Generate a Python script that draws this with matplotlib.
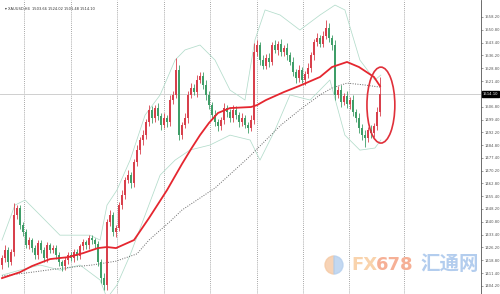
import numpy as np
import matplotlib.pyplot as plt
from matplotlib.patches import Ellipse, Wedge
from matplotlib.transforms import blended_transform_factory

# data (XAUUSD H4)
title_text = 'XAUUSD,H4  1503.66 1524.02 1501.48 1514.10'
first_open = 1416.0
closes = [1420.1, 1424.7, 1417.8, 1423.5, 1444.7, 1448.7,
          1439.0, 1435.0, 1427.5, 1430.4, 1425.8, 1421.8,
          1428.7, 1424.7, 1420.1, 1427.5, 1424.7, 1425.8,
          1421.8, 1417.8, 1415.5, 1418.9, 1421.8, 1420.1,
          1423.5, 1421.2, 1426.9, 1429.2, 1427.5, 1431.5,
          1430.4, 1428.1, 1417.8, 1408.6, 1404.6, 1440.7,
          1444.7, 1435.0, 1437.3, 1450.4, 1456.2, 1464.8,
          1467.6, 1463.0, 1475.1, 1481.9, 1487.7, 1490.5,
          1498.0, 1504.9, 1500.3, 1506.0, 1501.4, 1496.3,
          1500.3, 1498.0, 1510.6, 1513.5, 1527.8, 1490.5,
          1496.3, 1500.3, 1513.5, 1517.5, 1515.2, 1522.1,
          1524.4, 1519.2, 1513.5, 1507.7, 1502.0, 1498.0,
          1495.7, 1499.1, 1506.0, 1503.7, 1500.3, 1504.9,
          1502.0, 1498.0, 1500.3, 1496.3, 1494.6, 1499.1,
          1538.1, 1542.1, 1533.5, 1530.1, 1534.7, 1532.4,
          1542.1, 1539.3, 1542.7, 1538.1, 1540.4, 1536.4,
          1532.4, 1526.6, 1523.2, 1527.8, 1522.1, 1525.5,
          1528.9, 1536.4, 1543.8, 1546.1, 1542.7, 1547.3,
          1551.9, 1546.1, 1542.1, 1513.5, 1516.4, 1509.5,
          1512.9, 1508.3, 1510.6, 1503.7, 1500.3, 1494.6,
          1490.5, 1488.8, 1493.4, 1491.7, 1495.7, 1503.66,
          1514.10]
upper_wick = [2, 3, 1.5, 2, 7, 2, 2, 1.5, 2, 2, 1, 2, 2, 1.5, 2, 2, 1, 2,
              1.5, 2, 1, 2, 2, 1.5, 2, 2, 1, 2, 1.5, 2, 2, 1, 2, 1.5, 3, 2,
              3, 2, 2, 2, 3, 2, 3, 2, 2, 3, 2, 3, 2, 3, 2, 2, 3, 2,
              3, 2, 3, 2, 7, 3, 2, 3, 2, 3, 2, 3, 2, 2, 3, 2, 2, 3,
              2, 2, 3, 2, 2, 3, 2, 2, 3, 2, 2, 3, 5, 3, 2, 3, 2, 3,
              2, 3, 2, 3, 2, 3, 2, 3, 2, 3, 2, 2, 3, 2, 2, 3, 2, 3,
              4.5, 3, 2, 3, 2, 3, 2, 3, 2, 3, 2, 3, 2, 3, 2, 3, 2, 3,
              9.92]
lower_wick = [2, 2, 3, 1.5, 2, 2, 2, 2, 1.5, 2, 2, 2, 2, 1.5, 2, 2, 2, 1.5,
              2, 2, 3, 2, 2, 1.5, 2, 2, 1.5, 2, 2, 2, 2, 2, 2, 3, 3, 3,
              2, 2, 3, 2, 2, 2, 2, 3, 2, 2, 2, 3, 2, 2, 3, 2, 2, 3,
              2, 3, 2, 2, 2, 3, 2, 2, 3, 2, 2, 3, 2, 2, 3, 2, 2, 2,
              3, 2, 2, 3, 2, 2, 2, 3, 2, 2, 3, 2, 2, 2, 3, 2, 2, 3,
              2, 2, 3, 2, 2, 3, 2, 2, 3, 2, 2, 3, 2, 2, 3, 2, 2, 2,
              2, 2, 3, 3, 2, 3, 2, 2, 3, 2, 2, 3, 3, 5, 2, 3, 2, 2,
              2.18]

# red moving average
ma_red_idx = [0, 3, 6, 10, 16, 22, 27, 32, 35, 38, 44, 49, 55, 60, 63, 66, 69,
              72, 76, 83, 85, 88, 94, 99, 106, 110, 115, 119, 124, 126]
ma_red_val = [1408.6, 1410.3, 1412.0, 1415.5, 1419.5, 1420.6, 1422.9, 1425.8,
              1426.4, 1425.8, 1430.4, 1443.0, 1459.0, 1474.0, 1482.5, 1490.5,
              1497.5, 1503.2, 1506.0, 1506.6, 1507.7, 1510.6, 1515.2, 1518.6,
              1523.8, 1529.5, 1532.4, 1529.5, 1523.8, 1518.6]
# slow dotted moving average
ma_dot_idx = [0, 10, 20, 30, 38, 45, 49, 56, 60, 71, 82, 93, 100, 106, 110,
              115, 121, 126]
ma_dot_val = [1409.8, 1412.0, 1414.3, 1416.1, 1418.3, 1422.5, 1430.4, 1441.0,
              1447.6, 1460.2, 1477.4, 1496.3, 1506.0, 1513.5, 1517.5, 1520.3,
              1519.2, 1518.0]
# bollinger bands
bb_up_idx = [0, 4.3, 7.7, 12.7, 19.3, 29.3, 32.7, 35, 38.3, 42.7, 47.7, 52.7,
             57.7, 61, 66, 71, 76, 81, 84.3, 87.7, 92.7, 99.3, 106, 111, 114.3,
             119.3, 124.3, 126.3]
bb_up_val = [1430.4, 1450.4, 1453.3, 1444.7, 1433.2, 1433.2, 1430.4, 1450.4,
             1459.0, 1476.2, 1502.0, 1513.5, 1533.5, 1539.3, 1542.1, 1533.5,
             1516.3, 1510.6, 1545.0, 1562.2, 1559.3, 1550.7, 1559.3, 1565.0,
             1562.2, 1533.5, 1522.1, 1524.9]
bb_lo_idx = [0, 6, 12.7, 19.3, 26, 32.7, 35, 38.3, 42.7, 47.7, 52.7, 57.7,
             62.7, 69.3, 76, 82.7, 86, 91, 96, 102.7, 109.3, 114.3, 119.3,
             124.3, 126.3]
bb_lo_val = [1410.3, 1413.2, 1416.1, 1413.2, 1416.1, 1407.5, 1397.1, 1404.6,
             1421.8, 1444.7, 1467.6, 1476.2, 1482.0, 1484.8, 1490.5, 1487.7,
             1476.2, 1493.4, 1513.5, 1510.6, 1522.1, 1490.5, 1481.9, 1483.1,
             1487.7]

ytick_vals = [1558.20, 1550.80, 1543.40, 1536.20, 1528.80, 1521.40, 1506.80,
              1499.40, 1492.20, 1484.80, 1477.40, 1470.20, 1462.80, 1455.40,
              1448.20, 1440.80, 1433.40, 1426.20, 1418.80, 1411.40, 1404.20]
vgrid_idx = [7.3, 23, 38.3, 54, 69.3, 85, 100.3, 115.7, 134]
last_price = 1514.10

opens = [first_open] + closes[:-1]
highs = [max(o, c) + w for o, c, w in zip(opens, closes, upper_wick)]
lows = [min(o, c) - w for o, c, w in zip(opens, closes, lower_wick)]
x = np.arange(len(closes))

fig = plt.figure(figsize=(5, 2.94), dpi=100)
ax = fig.add_axes([0, 0, 481 / 500, 1])
ax.set_xlim(-0.67, 159.67)
ax.set_ylim(1399.5, 1567.9)

for gx in vgrid_idx:
    ax.axvline(gx, color='#8a8a8a', lw=0.6, ls=(0, (1, 1.5)), zorder=0)
ax.axhline(last_price, color='#cfcfcf', lw=0.7, zorder=0)

# bands and averages
ax.plot(bb_up_idx, bb_up_val, color='#b3dccb', lw=0.55, zorder=1)
ax.plot(bb_lo_idx, bb_lo_val, color='#b3dccb', lw=0.55, zorder=1)
ax.plot(ma_dot_idx, ma_dot_val, color='#666666', lw=0.7, ls=(0, (1, 1.5)), zorder=2)

# candles: red up, green down
up = '#d8404c'
down = '#3f9e68'
colors = [up if c >= o else down for o, c in zip(opens, closes)]
ax.vlines(x, lows, highs, colors=colors, lw=0.6, zorder=3)
bodies = [max(abs(c - o), 0.4) for o, c in zip(opens, closes)]
ax.bar(x, bodies, bottom=[min(o, c) for o, c in zip(opens, closes)],
       width=0.78, color=colors, lw=0, zorder=3)

ax.plot(ma_red_idx, ma_red_val, color='#e5262f', lw=1.3, zorder=4)

ax.add_patch(Ellipse((126.3, 1507.7), 9.3, 43.5, fill=False,
                     edgecolor='#e0303a', lw=1.2, zorder=5))

# right price scale
ax.yaxis.tick_right()
ax.set_yticks(ytick_vals)
ax.set_yticklabels(['%.2f' % v for v in ytick_vals])
ax.tick_params(axis='y', labelsize=2.7, colors='#555555', length=1.5,
               width=0.4, pad=1)
ax.set_xticks([])
for s in ['top', 'left', 'bottom']:
    ax.spines[s].set_visible(False)
ax.spines['right'].set_color('#555555')
ax.spines['right'].set_linewidth(0.6)

trans = blended_transform_factory(ax.transAxes, ax.transData)
ax.text(1.004, last_price, '%.2f' % last_price, transform=trans, fontsize=2.7,
        color='white', va='center', ha='left',
        bbox=dict(boxstyle='square,pad=0.25', fc='black', ec='black'))

fig.text(5 / 500, 1 - 9 / 294, '\u25be ' + title_text, fontsize=2.6,
         color='#333333', va='center', ha='left')

# watermark
icon = fig.add_axes([324 / 500, 1 - 275 / 294, 20 / 500, 20 / 294])
icon.set_xlim(-1, 1)
icon.set_ylim(-1, 1)
icon.set_aspect('equal')
icon.axis('off')
icon.add_patch(Wedge((0, 0), 0.9, 90, 270, color='#f5c9a4', alpha=0.8))
icon.add_patch(Wedge((0, 0), 0.9, 270, 90, color='#b5cfee', alpha=0.8))
fig.text(351 / 500, 1 - 265 / 294, 'FX', fontsize=13, fontweight='bold',
         family='DejaVu Sans', color='#f9d3ac', va='center', ha='left')
fig.text(376 / 500, 1 - 265 / 294, '678', fontsize=13, fontweight='bold',
         family='DejaVu Sans', color='#f6b096', va='center', ha='left')
fig.text(420 / 500, 1 - 265 / 294, '汇通网', fontsize=14, fontweight='bold',
         family=['Noto Sans CJK SC', 'DejaVu Sans'], color='#b3cdee',
         va='center', ha='left')

fig.savefig('out.png', dpi=100)
